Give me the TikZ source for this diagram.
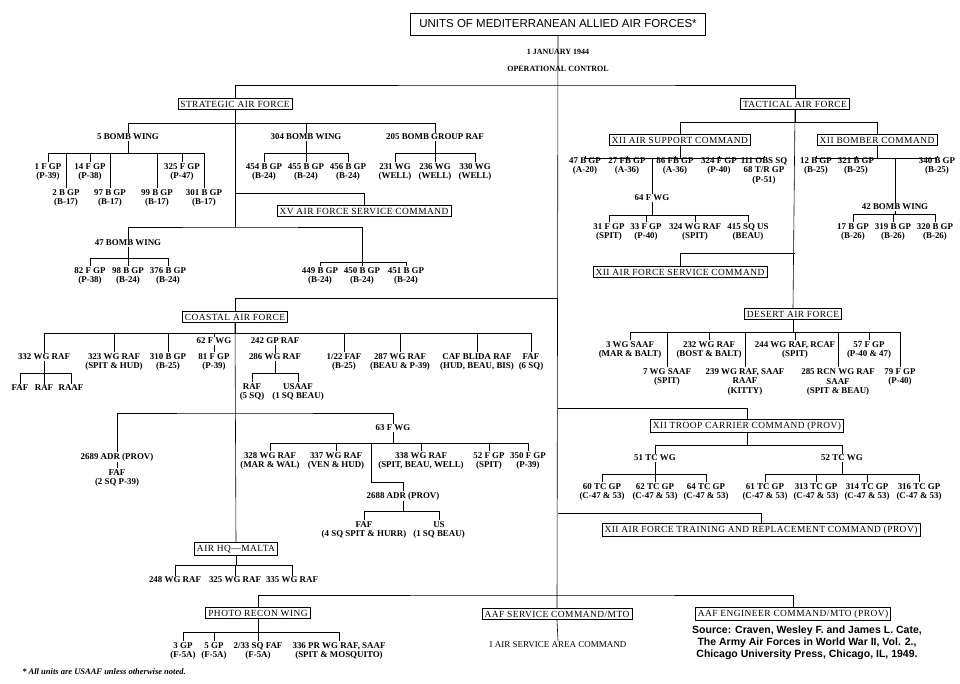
\documentclass[tikz,border=0pt]{standalone}
\usepackage{fontspec}
\setmainfont{Liberation Serif}
\newfontfamily\orgsans{Liberation Sans}
\newfontfamily\orgspaced{Liberation Serif}[LetterSpace=5]
\newcommand\unitfont{\bfseries\fontsize{8.9}{9.4}\selectfont}
\newcommand\cmdfont{\orgspaced\fontsize{9.4}{9.8}\selectfont}
% parent, bus y, first child, last child, all children
\newcommand\orgbus[5]{%
  \draw (#1.south) -- (#1.south |- 0,#2);
  \draw (#3.north |- 0,#2) -- (#4.north |- 0,#2);
  \foreach \k in {#5} \draw (\k.north) -- (\k.north |- 0,#2);
}
\tikzset{
  unit/.style={font=\unitfont, align=center, inner sep=1pt},
  cmd/.style={draw, font=\cmdfont, inner sep=2.5pt, fill=white},
}
\begin{document}
\begin{tikzpicture}[x=1pt, y=-1pt, line width=0.6pt]
\useasboundingbox[fill=white] (0,0) rectangle (960,684);

% Top
\node[draw, font=\orgsans\fontsize{11.5}{12}\selectfont, inner xsep=9pt, inner ysep=7pt] (title) at (558,24) {UNITS OF MEDITERRANEAN ALLIED AIR FORCES*};
\node[unit, font=\bfseries\fontsize{8}{8.5}\selectfont] (date) at (558,52) {1 JANUARY 1944};
\node[unit, font=\bfseries\fontsize{8}{8.5}\selectfont] (opc) at (558,69) {OPERATIONAL CONTROL};

% Spine
\node[cmd] (aafsc) at (557,614) {AAF SERVICE COMMAND/MTO};
\draw (title.south) -- (aafsc.north);
\node[unit, font=\fontsize{9}{9.5}\selectfont] (iasac) at (558,645) {I AIR SERVICE AREA COMMAND};
\draw (aafsc.south) -- (iasac.north);

\node[cmd] (saf) at (235,104) {STRATEGIC AIR FORCE};
\node[cmd] (taf) at (795,104) {TACTICAL AIR FORCE};
\draw (saf.north) |- (558,85) -| (taf.north);

% Strategic air force
\node[unit] (bw5) at (128,137) {5 BOMB WING};
\node[unit] (bw304) at (306,137) {304 BOMB WING};
\node[unit] (bg205) at (435,137) {205 BOMB GROUP RAF};
\orgbus{saf}{123}{bw5}{bg205}{bw5,bw304,bg205}
\draw (saf.south) -- (235,227);

\node[unit] (f1) at (48,172) {1 F GP\\(P-39)};
\node[unit] (f14) at (90,172) {14 F GP\\(P-38)};
\node[unit] (b2) at (66,198) {2 B GP\\(B-17)};
\node[unit] (b97) at (110,198) {97 B GP\\(B-17)};
\node[unit] (b99) at (157,198) {99 B GP\\(B-17)};
\node[unit] (f325) at (182,172) {325 F GP\\(P-47)};
\node[unit] (b301) at (204,198) {301 B GP\\(B-17)};
\orgbus{bw5}{153}{f1}{b301}{f1,f14,b2,b97,b99,f325,b301}

\node[unit] (b454) at (264,172) {454 B GP\\(B-24)};
\node[unit] (b455) at (306,172) {455 B GP\\(B-24)};
\node[unit] (b456) at (348,172) {456 B GP\\(B-24)};
\orgbus{bw304}{153}{b454}{b456}{b454,b455,b456}

\node[unit] (w231) at (395,172) {231 WG\\(WELL)};
\node[unit] (w236) at (435,172) {236 WG\\(WELL)};
\node[unit] (w330) at (475,172) {330 WG\\(WELL)};
\orgbus{bg205}{153}{w231}{w330}{w231,w236,w330}

\node[cmd] (xvsc) at (364,211) {XV AIR FORCE SERVICE COMMAND};
\draw (235,193) -| (xvsc.north);

\node[unit] (bw47) at (128,243) {47 BOMB WING};
\node[unit] (b449) at (320,276) {449 B GP\\(B-24)};
\node[unit] (b450) at (362,276) {450 B GP\\(B-24)};
\node[unit] (b451) at (406,276) {451 B GP\\(B-24)};
\draw (bw47.north) |- (235,227) -| (b450.north);
\draw (b449.north |- 0,262) -- (b451.north |- 0,262);
\foreach \k in {b449,b451} \draw (\k.north) -- (\k.north |- 0,262);

\node[unit] (f82) at (90,276) {82 F GP\\(P-38)};
\node[unit] (b98) at (128,276) {98 B GP\\(B-24)};
\node[unit] (b376) at (168,276) {376 B GP\\(B-24)};
\orgbus{bw47}{258}{f82}{b376}{f82,b98,b376}

% Coastal air force
\node[cmd] (caf) at (235,317) {COASTAL AIR FORCE};
\draw (558,298) -| (caf.north);
\node[cmd] (mal) at (236,549) {AIR HQ—MALTA};
\draw (caf.south) -- (mal.north);

\node[unit] (r332) at (44,357) {332 WG RAF};
\node[unit] (r323) at (114,362) {323 WG RAF\\(SPIT \& HUD)};
\node[unit] (g310) at (168,362) {310 B GP\\(B-25)};
\node[unit] (w62) at (214,341) {62 F WG};
\node[unit] (g81) at (214,362) {81 F GP\\(P-39)};
\node[unit] (g242) at (275,341) {242 GP RAF};
\node[unit] (r286) at (275,357) {286 WG RAF};
\node[unit] (faf122) at (344,362) {1/22 FAF\\(B-25)};
\node[unit] (r287) at (400,362) {287 WG RAF\\(BEAU \& P-39)};
\node[unit] (blida) at (477,362) {CAF BLIDA RAF\\(HUD, BEAU, BIS)};
\node[unit] (faf6) at (531,362) {FAF\\(6 SQ)};
\orgbus{caf}{333}{r332}{faf6}{r332,r323,g310,w62,faf122,r287,blida,faf6}
\draw (w62.south) -- (g81.north);
\draw (g242.south) -- (r286.north);

\node[unit] (faf1) at (20,388) {FAF};
\node[unit] (raf1) at (44,388) {RAF};
\node[unit] (raaf1) at (71,388) {RAAF};
\orgbus{r332}{373}{faf1}{raaf1}{faf1,raf1,raaf1}

\node[unit] (raf5) at (252,392) {RAF\\(5 SQ)};
\node[unit] (usaaf1) at (298,392) {USAAF\\(1 SQ BEAU)};
\orgbus{r286}{373}{raf5}{usaaf1}{raf5,usaaf1}

\node[unit] (adr2689) at (117,457) {2689 ADR (PROV)};
\node[unit] (faf2) at (117,478) {FAF\\(2 SQ P-39)};
\draw (adr2689.south) -- (faf2.north);
\node[unit] (w63) at (393,428) {63 F WG};
\draw (adr2689.north) |- (235,413) -| (w63.north);

\node[unit] (r328) at (270,461) {328 WG RAF\\(MAR \& WAL)};
\node[unit] (r337) at (336,461) {337 WG RAF\\(VEN \& HUD)};
\node[unit] (r338) at (421,461) {338 WG RAF\\(SPIT, BEAU, WELL)};
\node[unit] (g52) at (489,461) {52 F GP\\(SPIT)};
\node[unit] (g350) at (528,461) {350 F GP\\(P-39)};
\orgbus{w63}{443}{r328}{g350}{r328,r337,r338,g52,g350}

\node[unit] (adr2688) at (403,496) {2688 ADR (PROV)};
\draw (371,443) -- (371,482) -| (adr2688.north);
\node[unit] (faf4) at (364,530) {FAF\\(4 SQ SPIT \& HURR)};
\node[unit] (us1) at (439,530) {US\\(1 SQ BEAU)};
\orgbus{adr2688}{511}{faf4}{us1}{faf4,us1}

\node[unit] (r248) at (175,580) {248 WG RAF};
\node[unit] (r325) at (235,580) {325 WG RAF};
\node[unit] (r335) at (292,580) {335 WG RAF};
\orgbus{mal}{565}{r248}{r335}{r248,r325,r335}

% Photo recon and engineers
\node[cmd] (prw) at (258,613) {PHOTO RECON WING};
\node[cmd] (aec) at (793,614) {AAF ENGINEER COMMAND/MTO (PROV)};
\draw (prw.north) |- (558,595) -| (aec.north);
\node[unit] (gp3) at (183,651) {3 GP\\(F-5A)};
\node[unit] (gp5) at (214,651) {5 GP\\(F-5A)};
\node[unit] (sq233) at (258,651) {2/33 SQ FAF\\(F-5A)};
\node[unit] (pr336) at (339,651) {336 PR WG RAF, SAAF\\(SPIT \& MOSQUITO)};
\orgbus{prw}{632}{gp3}{pr336}{gp3,gp5,sq233,pr336}

% Tactical air force
\node[cmd] (asc) at (680,140) {XII AIR SUPPORT COMMAND};
\node[cmd] (xbc) at (877,140) {XII BOMBER COMMAND};
\node[cmd] (daf) at (793,314) {DESERT AIR FORCE};
\orgbus{taf}{122}{asc}{xbc}{asc,xbc}
\draw (taf.south) -- (daf.north);

\node[unit] (g47) at (585,166) {47 B GP\\(A-20)};
\node[unit] (fb27) at (627,166) {27 FB GP\\(A-36)};
\node[unit] (fb86) at (675,166) {86 FB GP\\(A-36)};
\node[unit] (f324) at (719,166) {324 F GP\\(P-40)};
\node[unit] (obs111) at (764,171) {111 OBS SQ\\68 T/R GP\\(P-51)};
\node[unit] (w64) at (652,198) {64 F WG};
\orgbus{asc}{158}{g47}{obs111}{g47,fb27,fb86,f324,obs111,w64}

\node[unit] (f31) at (609,232) {31 F GP\\(SPIT)};
\node[unit] (f33) at (646,232) {33 F GP\\(P-40)};
\node[unit] (r324) at (695,232) {324 WG RAF\\(SPIT)};
\node[unit] (sq415) at (748,232) {415 SQ US\\(BEAU)};
\orgbus{w64}{215}{f31}{sq415}{f31,f33,r324,sq415}

\node[cmd] (xsc) at (680,272) {XII AIR FORCE SERVICE COMMAND};
\draw (795,253) -| (xsc.north);

\node[unit] (b12) at (816,166) {12 B GP\\(B-25)};
\node[unit] (b321) at (856,166) {321 B GP\\(B-25)};
\node[unit] (w42) at (895,207) {42 BOMB WING};
\node[unit] (b340) at (937,166) {340 B GP\\(B-25)};
\orgbus{xbc}{158}{b12}{b340}{b12,b321,w42,b340}

\node[unit] (b17) at (853,232) {17 B GP\\(B-26)};
\node[unit] (b319) at (893,232) {319 B GP\\(B-26)};
\node[unit] (b320) at (935,232) {320 B GP\\(B-26)};
\orgbus{w42}{214}{b17}{b320}{b17,b319,b320}

% Desert air force
\node[unit] (wg3) at (630,350) {3 WG SAAF\\(MAR \& BALT)};
\node[unit] (r232) at (709,350) {232 WG RAF\\(BOST \& BALT)};
\node[unit] (r244) at (795,350) {244 WG RAF, RCAF\\(SPIT)};
\node[unit] (f57) at (869,350) {57 F GP\\(P-40 \& 47)};
\node[unit] (wg7) at (667,377) {7 WG SAAF\\(SPIT)};
\node[unit] (r239) at (745,382) {239 WG RAF, SAAF\\RAAF\\(KITTY)};
\node[unit] (rcn285) at (838,382) {285 RCN WG RAF\\SAAF\\(SPIT \& BEAU)};
\node[unit] (f79) at (900,377) {79 F GP\\(P-40)};
\orgbus{daf}{332}{wg3}{f79}{wg3,r232,r244,f57,wg7,r239,rcn285,f79}

% Troop carrier and training
\node[cmd] (tcc) at (747,426) {XII TROOP CARRIER COMMAND (PROV)};
\draw (558,408) -| (tcc.north);
\node[unit] (tc51) at (655,458) {51 TC WG};
\node[unit] (tc52) at (842,458) {52 TC WG};
\orgbus{tcc}{445}{tc51}{tc52}{tc51,tc52}

\node[unit] (tc60) at (602,492) {60 TC GP\\(C-47 \& 53)};
\node[unit] (tc62) at (655,492) {62 TC GP\\(C-47 \& 53)};
\node[unit] (tc64) at (706,492) {64 TC GP\\(C-47 \& 53)};
\orgbus{tc51}{474}{tc60}{tc64}{tc60,tc62,tc64}

\node[unit] (tc61) at (765,492) {61 TC GP\\(C-47 \& 53)};
\node[unit] (tc313) at (816,492) {313 TC GP\\(C-47 \& 53)};
\node[unit] (tc314) at (867,492) {314 TC GP\\(C-47 \& 53)};
\node[unit] (tc316) at (919,492) {316 TC GP\\(C-47 \& 53)};
\orgbus{tc52}{474}{tc61}{tc316}{tc61,tc313,tc314,tc316}

\node[cmd] (tra) at (761,530) {XII AIR FORCE TRAINING AND REPLACEMENT COMMAND (PROV)};
\draw (558,513) -| (tra.north);

% Notes
\node[font=\orgsans\bfseries\fontsize{10.5}{11.8}\selectfont, align=center] (source) at (807,643) {Source: Craven, Wesley F. and James L. Cate,\\The Army Air Forces in World War II, Vol. 2.,\\Chicago University Press, Chicago, IL, 1949.};
\node[anchor=west, font=\bfseries\itshape\fontsize{8.5}{9}\selectfont, inner sep=0pt] (note) at (22,672) {* All units are USAAF unless otherwise noted.};
\end{tikzpicture}
\end{document}
